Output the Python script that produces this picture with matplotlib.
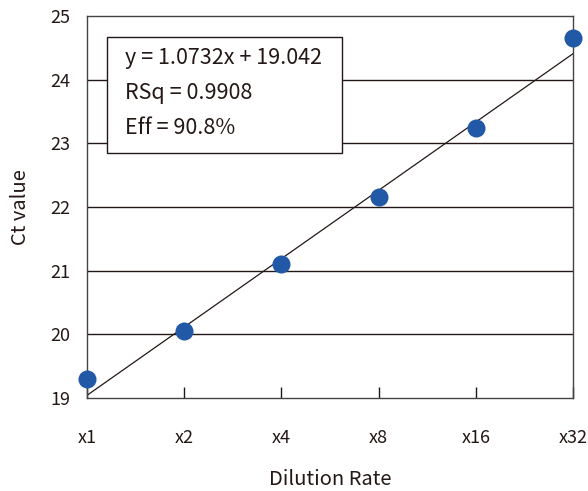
import matplotlib
matplotlib.use("Agg")
import matplotlib.pyplot as plt
import numpy as np
from matplotlib.patches import Rectangle

# data
dilution_labels = ["x1", "x2", "x4", "x8", "x16", "x32"]
ct_values = [19.30, 20.06, 21.10, 22.16, 23.24, 24.66]
slope = 1.0732
intercept = 19.042
stats_lines = ["y = 1.0732x + 19.042", "RSq = 0.9908", "Eff = 90.8%"]

plt.rcParams["font.family"] = ["Noto Sans CJK JP", "DejaVu Sans"]
text_color = "#231815"

fig = plt.figure(figsize=(5.88, 4.91), dpi=100)
ax = fig.add_axes([0.148, 0.1894, 0.8265, 0.778])

x = np.arange(len(dilution_labels))
ax.set_xlim(0, len(x) - 1)
ax.set_ylim(19, 25)

# horizontal grid
for yv in range(20, 25):
    ax.axhline(yv, color=text_color, lw=1.0, zorder=1)

# trendline
xl = np.array([0, len(x) - 1])
ax.plot(xl, slope * xl + intercept, color=text_color, lw=0.9, zorder=2)

ax.plot(x, ct_values, "o", color="#2259A6", markersize=13,
        markeredgewidth=0, zorder=4, clip_on=False)

ax.set_xticks(x)
ax.set_xticklabels(dilution_labels)
ax.set_yticks(range(19, 26))
ax.tick_params(axis="x", direction="in", length=8, width=1.0, pad=22,
               colors=text_color, labelsize=13)
ax.tick_params(axis="y", length=0, pad=12, colors=text_color, labelsize=13)
for s in ax.spines.values():
    s.set_color("#444444")
    s.set_linewidth(1.0)

ax.set_xlabel("Dilution Rate", fontsize=14.5, color=text_color, labelpad=16)
ax.set_ylabel("Ct value", fontsize=14.5, color=text_color, labelpad=14)

# stats box
box = Rectangle((107, 491 - 153), 235, 116, transform=None,
                facecolor="white", edgecolor=text_color, lw=1.0, zorder=5)
fig.patches.append(box)
for i, line in enumerate(stats_lines):
    fig.text(125 / 588, 1 - (58 + 35 * i) / 491, line, fontsize=15.5,
             color=text_color, va="center", ha="left", zorder=6)

fig.savefig("out.png", dpi=100)
